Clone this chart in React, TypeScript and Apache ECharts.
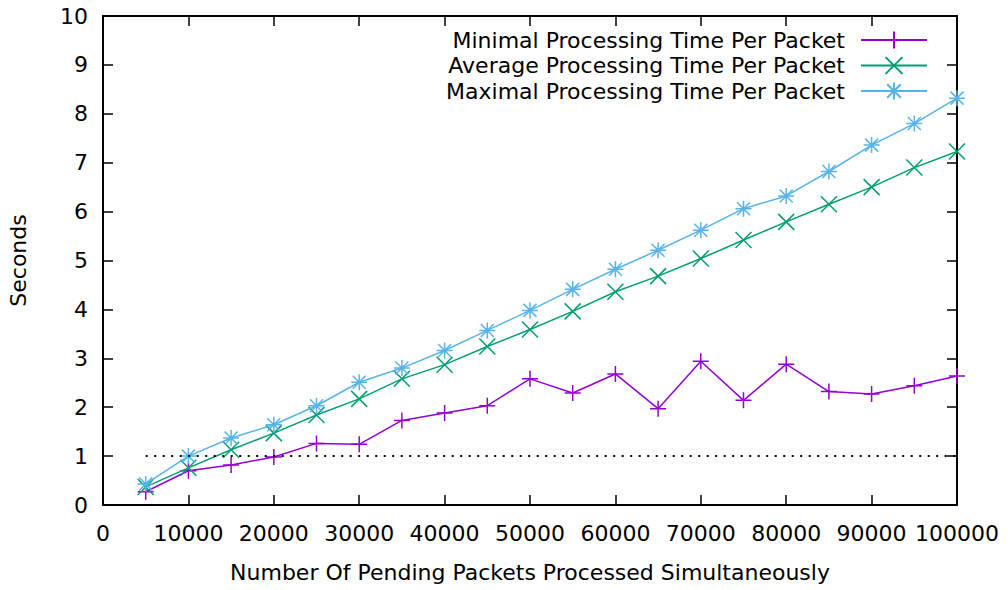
import React, { useEffect, useRef } from "react";
import * as echarts from "echarts";

const packets = [5000, 10000, 15000, 20000, 25000, 30000, 35000, 40000, 45000, 50000, 55000, 60000, 65000, 70000, 75000, 80000, 85000, 90000, 95000, 100000];
const minTime = [0.27, 0.70, 0.82, 0.98, 1.26, 1.24, 1.73, 1.88, 2.03, 2.58, 2.29, 2.68, 1.97, 2.94, 2.14, 2.88, 2.32, 2.27, 2.44, 2.64];
const avgTime = [0.37, 0.76, 1.13, 1.47, 1.84, 2.17, 2.58, 2.87, 3.24, 3.59, 3.96, 4.36, 4.68, 5.04, 5.42, 5.79, 6.15, 6.50, 6.90, 7.23];
const maxTime = [0.43, 1.00, 1.37, 1.64, 2.03, 2.51, 2.80, 3.16, 3.57, 3.98, 4.41, 4.82, 5.21, 5.62, 6.06, 6.32, 6.82, 7.36, 7.80, 8.32];
const thresholdX = [5000, 100000];
const thresholdY = [1, 1];

const seriesNames = [
  "Minimal Processing Time Per Packet",
  "Average Processing Time Per Packet",
  "Maximal Processing Time Per Packet",
];
const colors = ["#9400D3", "#009E73", "#56B4E9"];
const symbols = [
  "path://M8,0 L8,16 M0,8 L16,8",
  "path://M0,0 L16,16 M16,0 L0,16",
  "path://M8,0 L8,16 M0,8 L16,8 M1.5,1.5 L14.5,14.5 M14.5,1.5 L1.5,14.5",
];

const FONT = "DejaVu Sans";

export default function App() {
  const ref = useRef<HTMLDivElement>(null);
  useEffect(() => {
    if (!ref.current) return;
    const chart = echarts.init(ref.current, undefined, { renderer: "svg" });
    const values = [minTime, avgTime, maxTime];
    const mkSeries = values.map((vals, i) => ({
      name: seriesNames[i],
      type: "line",
      data: packets.map((x, j) => [x, vals[j]]),
      symbol: symbols[i],
      symbolSize: 16,
      showSymbol: true,
      itemStyle: { color: colors[i], borderColor: colors[i], borderWidth: 1.5 },
      lineStyle: { color: colors[i], width: 1.5 },
      emphasis: { disabled: true },
      z: 2 + i,
    }));
    const axisCommon = {
      axisLine: { show: true, onZero: false, lineStyle: { color: "#000", width: 2 } },
      axisTick: { show: true, inside: true, length: 10, lineStyle: { color: "#000", width: 1.5 } },
      splitLine: { show: false },
    };
    chart.setOption({
      animation: false,
      backgroundColor: "#fff",
      textStyle: { fontFamily: FONT },
      grid: { left: 103, right: 51, top: 16, bottom: 85, containLabel: false, outerBoundsMode: "none" },
      legend: {
        data: seriesNames,
        orient: "vertical",
        align: "right",
        right: 80,
        top: 29,
        padding: 0,
        itemWidth: 66,
        itemHeight: 21,
        itemGap: 3.5,
        selectedMode: false,
        textStyle: { fontFamily: FONT, fontSize: 22, color: "#000", lineHeight: 22, padding: [0, 11, 0, 0] },
      },
      xAxis: [
        {
          type: "value",
          min: 0,
          max: 100000,
          interval: 10000,
          position: "bottom",
          name: "Number Of Pending Packets Processed Simultaneously",
          nameLocation: "middle",
          nameGap: 56,
          nameTextStyle: { fontFamily: FONT, fontSize: 22, color: "#000" },
          axisLabel: {
            show: true,
            margin: 17,
            fontFamily: FONT,
            fontSize: 22,
            color: "#000",
            formatter: (v: number) => String(v),
          },
          ...axisCommon,
        },
        {
          type: "value",
          min: 0,
          max: 100000,
          interval: 10000,
          position: "top",
          axisLabel: { show: false },
          ...axisCommon,
        },
      ],
      yAxis: [
        {
          type: "value",
          min: 0,
          max: 10,
          interval: 1,
          position: "left",
          name: "Seconds",
          nameLocation: "middle",
          nameGap: 74,
          nameTextStyle: { fontFamily: FONT, fontSize: 22, color: "#000" },
          axisLabel: { show: true, margin: 15, fontFamily: FONT, fontSize: 22, color: "#000" },
          ...axisCommon,
        },
        {
          type: "value",
          min: 0,
          max: 10,
          interval: 1,
          position: "right",
          axisLabel: { show: false },
          ...axisCommon,
        },
      ],
      series: [
        ...mkSeries,
        {
          name: "threshold",
          type: "line",
          data: thresholdX.map((x, j) => [x, thresholdY[j]]),
          symbol: "none",
          silent: true,
          lineStyle: { color: "#000", width: 2, type: [2, 6.5] },
          z: 6,
        },
      ],
    });
    return () => chart.dispose();
  }, []);
  return (
    <div
      ref={ref}
      style={{ position: "fixed", left: 0, top: 0, width: 1008, height: 590 }}
    />
  );
}
